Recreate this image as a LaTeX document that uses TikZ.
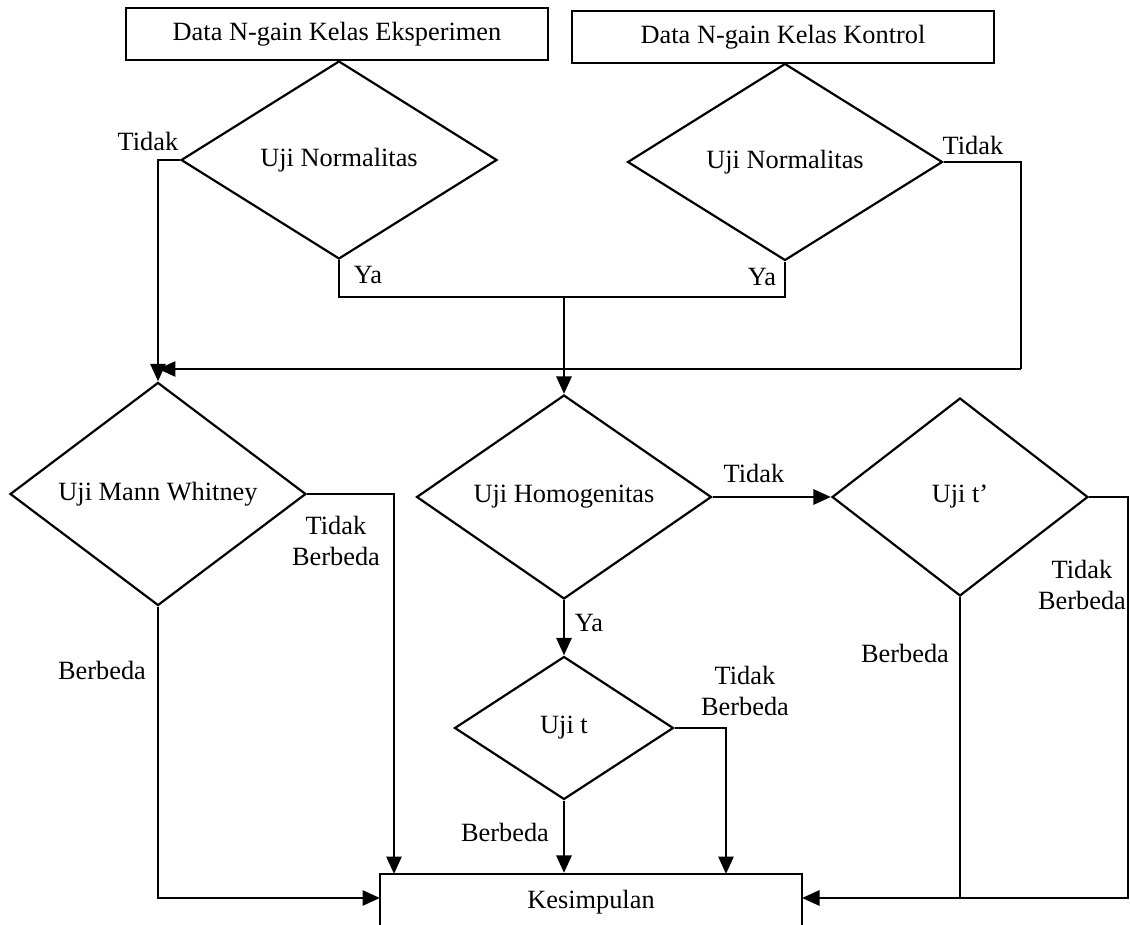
\documentclass[tikz,border=0pt]{standalone}
\usepackage{fontspec}
\setmainfont{Liberation Serif}
\usetikzlibrary{arrows.meta, backgrounds, shapes.geometric, positioning}

\begin{document}
\begin{tikzpicture}[
            background rectangle/.style={fill=white},
            show background rectangle,
            inner frame sep=0pt,
            x=0.02cm, y=-0.02cm,
            font=\fontsize{15}{18}\selectfont,
            line width=1.25pt
        ]

        \tikzstyle{data}=[
            draw,
            shape=rectangle,
            minimum width=8.44cm,
            minimum height=1.04cm,
            inner sep=0pt
        ]
        \tikzstyle{uji}=[
            draw,
            shape=diamond,
            inner sep=0pt
        ]
        \tikzstyle{lbl}=[inner sep=0pt, align=center]
        \tikzstyle{arr}=[-{Triangle[length=0.35cm,width=0.3cm]}, line width=1.6pt]

        \useasboundingbox (0,0) rectangle (1130,925);

        \node[data] (eks) at (337,34) {Data N-gain Kelas Eksperimen};
        \node[data] (kon) at (783,37) {Data N-gain Kelas Kontrol};
        \node[uji, minimum width=6.32cm, minimum height=3.96cm] (norm1) at (339,160) {Uji Normalitas};
        \node[uji, minimum width=6.30cm, minimum height=3.94cm] (norm2) at (785,162) {Uji Normalitas};
        \node[uji, minimum width=5.92cm, minimum height=3.94cm] (mw) at (158,494) {Uji Mann Whitney};
        \node[uji, minimum width=5.90cm, minimum height=3.94cm] (homo) at (564,497) {Uji Homogenitas};
        \node[uji, minimum width=5.12cm, minimum height=3.96cm] (tp) at (960,497) {Uji t'};
        \node[uji, minimum width=4.38cm, minimum height=2.86cm] (ut) at (564,728) {Uji t};
        \node[data, minimum height=1.12cm] (kes) at (591,902) {Kesimpulan};

        \coordinate (ya) at (564,297);
        \coordinate (kr) at (1021,369);
        \coordinate (kl) at (158,369);
        \coordinate (k0) at (380,898);
        \coordinate (k1) at (394,874);
        \coordinate (k3) at (726,874);
        \coordinate (k4) at (802,898);
        \coordinate (tb) at (1128,898);

        % normalitas
        \draw[arr] (norm1.west) -| (mw.north);
        \draw (norm1.south) |- (ya) -| (norm2.south);
        \draw[arr] (ya) -- (homo.north);
        \draw (norm2.east) -| (kr);
        \draw[arr] (kr) -- (kl);

        % mann whitney
        \draw[arr] (mw.east) -| (k1);
        \draw[arr] (mw.south) |- (k0);

        % homogenitas, uji t, uji t'
        \draw[arr] (homo.east) -- (tp.west);
        \draw[arr] (homo.south) -- (ut.north);
        \draw[arr] (ut.south) -- (ut.south |- kes.north);
        \draw[arr] (ut.east) -| (k3);
        \draw (tp.east) -| (tb) -- (tp.south |- tb);
        \draw[arr] (tp.south) |- (k4);

        \node[lbl] (t1) at (148,141) {Tidak};
        \node[lbl] (y1) at (368,275) {Ya};
        \node[lbl] (t2) at (973,145) {Tidak};
        \node[lbl] (y2) at (762,277) {Ya};
        \node[lbl] (tb1) at (336,541) {Tidak\\Berbeda};
        \node[lbl] (b1) at (102,670) {Berbeda};
        \node[lbl] (t3) at (754,473) {Tidak};
        \node[lbl] (y3) at (589,623) {Ya};
        \node[lbl] (tb2) at (745,691) {Tidak\\Berbeda};
        \node[lbl] (b2) at (505,832) {Berbeda};
        \node[lbl] (b3) at (905,653) {Berbeda};
        \node[lbl] (tb3) at (1082,585) {Tidak\\Berbeda};
    \end{tikzpicture}
\end{document}
